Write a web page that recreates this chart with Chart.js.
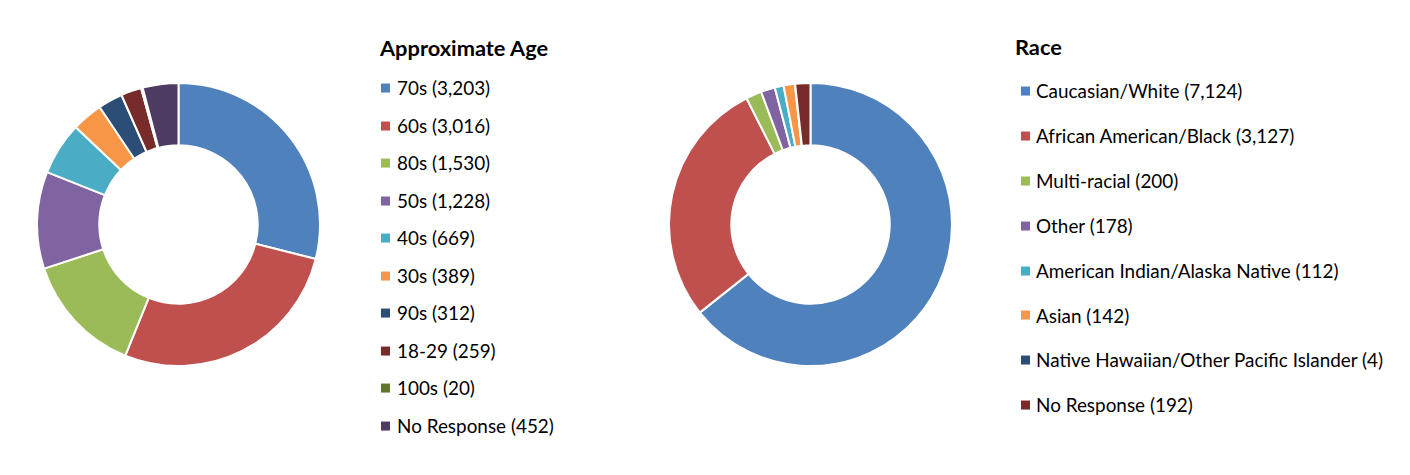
<!DOCTYPE html>
<html>
<head>
<meta charset="utf-8">
<script src="https://cdn.jsdelivr.net/npm/chart.js@4"></script>
<style>
  html, body { margin: 0; padding: 0; background: #fff; }
  #wrap { position: relative; width: 1410px; height: 475px; overflow: hidden; font-family: Lato, "Open Sans", sans-serif; color: #000; }
  .cv { position: absolute; }
  .ltitle { position: absolute; font-weight: bold; font-size: 21.8px; line-height: 1; transform: translateY(-50%); white-space: nowrap; }
  .litem { position: absolute; font-size: 18.9px; line-height: 1; white-space: nowrap; transform: translateY(-50%); display: flex; align-items: center; }
  .lbox { width: 9px; height: 9px; display: inline-block; }
</style>
</head>
<body>
<div id="wrap">
  <div class="cv" style="left:36px; top:81.5px; width:285px; height:285px;"><canvas id="ageChart" width="285" height="285"></canvas></div>
  <div class="cv" style="left:668px; top:81.5px; width:285px; height:285px;"><canvas id="raceChart" width="285" height="285"></canvas></div>
</div>
<script>
// ---- Data ----
const ageTitle = "Approximate Age";
const ageLabels = ["70s", "60s", "80s", "50s", "40s", "30s", "90s", "18-29", "100s", "No Response"];
const ageValues = [3203, 3016, 1530, 1228, 669, 389, 312, 259, 20, 452];
const ageColors = ["#4F81BD", "#C0504D", "#9BBB59", "#8064A2", "#4BACC6", "#F79646", "#2C4D75", "#772C2A", "#5F7530", "#4D3B62"];

const raceTitle = "Race";
const raceLabels = ["Caucasian/White", "African American/Black", "Multi-racial", "Other", "American Indian/Alaska Native", "Asian", "Native Hawaiian/Other Pacific Islander", "No Response"];
const raceValues = [7124, 3127, 200, 178, 112, 142, 4, 192];
const raceColors = ["#4F81BD", "#C0504D", "#9BBB59", "#8064A2", "#4BACC6", "#F79646", "#2C4D75", "#772C2A"];

function fmt(v) { return v.toLocaleString("en-US"); }

function makeDoughnut(id, labels, values, colors) {
  return new Chart(document.getElementById(id), {
    type: "doughnut",
    data: {
      labels: labels,
      datasets: [{
        data: values,
        backgroundColor: colors,
        borderColor: "#ffffff",
        borderWidth: 2,
        hoverOffset: 0
      }]
    },
    options: {
      responsive: false,
      animation: false,
      cutout: "56%",
      layout: { padding: 0 },
      plugins: { legend: { display: false }, tooltip: { enabled: false } }
    }
  });
}

function makeLegend(title, labels, values, colors, pos) {
  const wrap = document.getElementById("wrap");
  const t = document.createElement("div");
  t.className = "ltitle";
  t.style.left = pos.titleX + "px";
  t.style.top = pos.titleY + "px";
  t.textContent = title;
  wrap.appendChild(t);
  labels.forEach((lab, i) => {
    const it = document.createElement("div");
    it.className = "litem";
    it.style.left = pos.boxX + "px";
    it.style.top = (pos.rowY0 + i * pos.rowStep) + "px";
    const b = document.createElement("span");
    b.className = "lbox";
    b.style.background = colors[i];
    b.style.marginRight = pos.gap + "px";
    const s = document.createElement("span");
    s.textContent = lab + " (" + fmt(values[i]) + ")";
    it.appendChild(b);
    it.appendChild(s);
    wrap.appendChild(it);
  });
}

makeDoughnut("ageChart", ageLabels, ageValues, ageColors);
makeDoughnut("raceChart", raceLabels, raceValues, raceColors);

makeLegend(ageTitle, ageLabels, ageValues, ageColors, { titleX: 380, titleY: 48, boxX: 381, gap: 7, rowY0: 88, rowStep: 37.55 });
makeLegend(raceTitle, raceLabels, raceValues, raceColors, { titleX: 1015, titleY: 47, boxX: 1021, gap: 6, rowY0: 91, rowStep: 44.9 });
</script>
</body>
</html>
